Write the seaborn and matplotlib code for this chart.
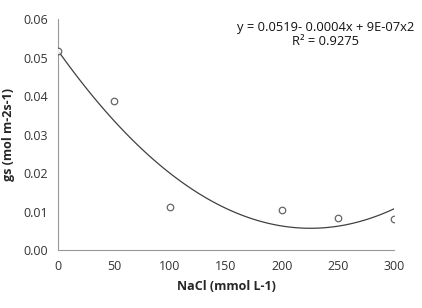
import numpy as np
import pandas as pd
import matplotlib.pyplot as plt
import seaborn as sns

nacl = [0, 50, 100, 200, 250, 300]
gs = [0.0517, 0.0387, 0.0113, 0.0104, 0.0084, 0.0082]
x_ticks = [0, 50, 100, 150, 200, 250, 300]
y_ticks = [0.00, 0.01, 0.02, 0.03, 0.04, 0.05, 0.06]

df = pd.DataFrame({'NaCl': nacl, 'gs': gs})

sns.set_style('white')
plt.rcParams['font.family'] = ['Open Sans', 'DejaVu Sans']

fig = plt.figure(figsize=(4.22, 3.08), dpi=100)
ax = fig.add_axes([0.137, 0.188, 0.797, 0.75])

sns.regplot(x='NaCl', y='gs', data=df, order=2, ci=None, ax=ax,
            scatter_kws={'facecolors': 'white', 'edgecolors': '#404040', 's': 22, 'linewidths': 0.9, 'zorder': 3},
            line_kws={'color': '#404040', 'linewidth': 0.9})

ax.set_xlim(0, 300)
ax.set_ylim(0, 0.06)
ax.set_xticks(x_ticks)
ax.set_yticks(y_ticks)
ax.set_yticklabels(['%.2f' % v for v in y_ticks])
ax.tick_params(axis='both', labelsize=9, direction='out', length=4, width=0.8,
               color='#999999', labelcolor='#333333', pad=3)
for s in ['top', 'right']:
    ax.spines[s].set_visible(False)
for s in ['left', 'bottom']:
    ax.spines[s].set_color('#999999')
    ax.spines[s].set_linewidth(0.8)

ax.set_xlabel('NaCl (mmol L-1)', fontsize=9, fontweight='bold', labelpad=5)
ax.set_ylabel('gs (mol m-2s-1)', fontsize=9, fontweight='bold', labelpad=6)

ax.text(0.795, 0.99, 'y = 0.0519- 0.0004x + 9E-07x2\nR² = 0.9275', transform=ax.transAxes,
        ha='center', va='top', fontsize=9.3, linespacing=1.05, color='#111111')

fig.savefig('out.png', dpi=100)
